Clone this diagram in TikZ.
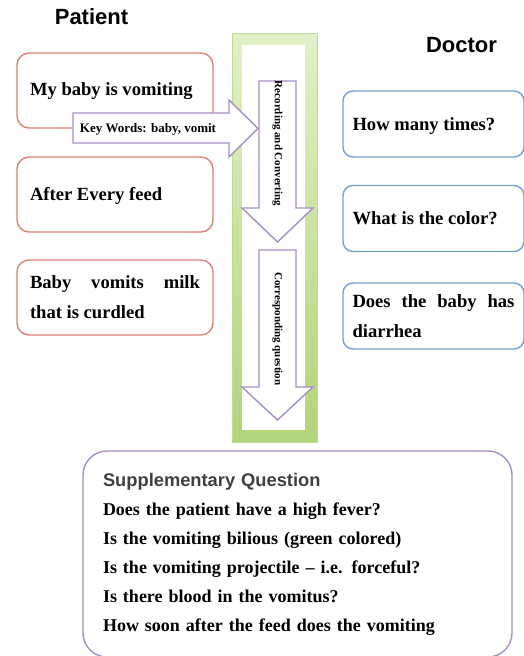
\documentclass[tikz,border=0pt]{standalone}
\usepackage{fontspec}
\setmainfont{Liberation Serif}
\setsansfont{Liberation Sans}
\usepackage{xcolor}
\usepackage{tikz}
\usetikzlibrary{positioning}
\definecolor{ptred}{RGB}{222,130,120}
\definecolor{docblue}{RGB}{115,162,205}
\definecolor{arrpurple}{RGB}{168,142,196}
\definecolor{frmline}{RGB}{190,218,150}
\definecolor{frmlight}{RGB}{224,241,198}
\definecolor{frmdark}{RGB}{178,212,122}
\hyphenpenalty=10000

\begin{document}
\begin{tikzpicture}[x=1pt,y=-1pt,
  txt/.style={font=\bfseries\fontsize{18.6}{30}\selectfont},
  pbox/.style={txt,draw=ptred,line width=1.4pt,rounded corners=12pt,fill=white,
    minimum width=196pt,minimum height=75pt,text width=170pt,inner xsep=13pt,align=justify},
  dbox/.style={txt,draw=docblue,line width=1.4pt,rounded corners=10pt,fill=white,
    minimum width=181pt,minimum height=66pt,text width=162pt,inner xsep=9.5pt,align=justify},
  qbox/.style={font=\bfseries\fontsize{18}{29}\selectfont,draw=arrpurple,line width=1.4pt,
    rounded corners=24pt,minimum width=429pt,minimum height=206pt,text width=389pt,
    inner xsep=20pt,align=left},
  ttl/.style={font=\sffamily\bfseries\fontsize{22}{26}\selectfont,inner sep=0pt},
  blk/.style={draw=arrpurple,line width=1.4pt,fill=white,line join=miter},
  arrtxt/.style={font=\bfseries\fontsize{11}{13}\selectfont,inner sep=0pt}]
\useasboundingbox (0,0) rectangle (524,656);
% headings
\node[ttl] (pat) at (91.5,17) {Patient};
\node[ttl] (doc) at (461.5,45) {Doctor};
% green column
\fill[top color=frmlight,bottom color=frmdark,draw=frmline] (232,33) rectangle (317,442);
\fill[white] (242,45) rectangle (305,430);
% patient side
\node[pbox,text depth=2pt] (p1) at (115,90.5) {My baby is vomiting};
\node[pbox,text depth=2pt] (p2) at (115,194.5) {After Every feed};
\node[pbox] (p3) at (115,297.5) {Baby vomits milk\linebreak that is curdled};
% key words arrow
\draw[blk] (73,113) -- (229,113) -- (229,100) -- (258,128.5) -- (229,157)
  -- (229,143) -- (73,143) -- cycle;
\node[arrtxt,font=\bfseries\fontsize{13}{15}\selectfont] (kw) at (148,129) {Key Words: baby, vomit};
% downward arrows
\draw[blk] (259,81) -- (296,81) -- (296,208) -- (313,208) -- (277.5,242) -- (242,208)
  -- (259,208) -- cycle;
\node[arrtxt,rotate=-90] (rc) at (277.5,143.5) {Recording and Converting};
\draw[blk] (259,250) -- (296,250) -- (296,387) -- (313,387) -- (277.5,420) -- (242,387)
  -- (259,387) -- cycle;
\node[arrtxt,rotate=-90] (cq) at (277.5,329) {Corresponding question};
% doctor side
\node[dbox,text depth=0pt] (d1) at (433.5,124) {How many times?};
\node[dbox] (d2) at (433.5,218.5) {What is the color?};
\node[dbox,yshift=-4pt] (d3) at (433.5,312) {Does the baby has\linebreak diarrhea};
% supplementary questions
\node[qbox] (sq) at (297.5,554) {{\sffamily\color{black!75}\fontsize{18.3}{29}\selectfont Supplementary Question}\\
  Does the patient have a high fever?\\
  Is the vomiting bilious (green colored)\\
  Is the vomiting projectile -- i.e. forceful?\\
  Is there blood in the vomitus?\\
  How soon after the feed does the vomiting};
\end{tikzpicture}
\end{document}
